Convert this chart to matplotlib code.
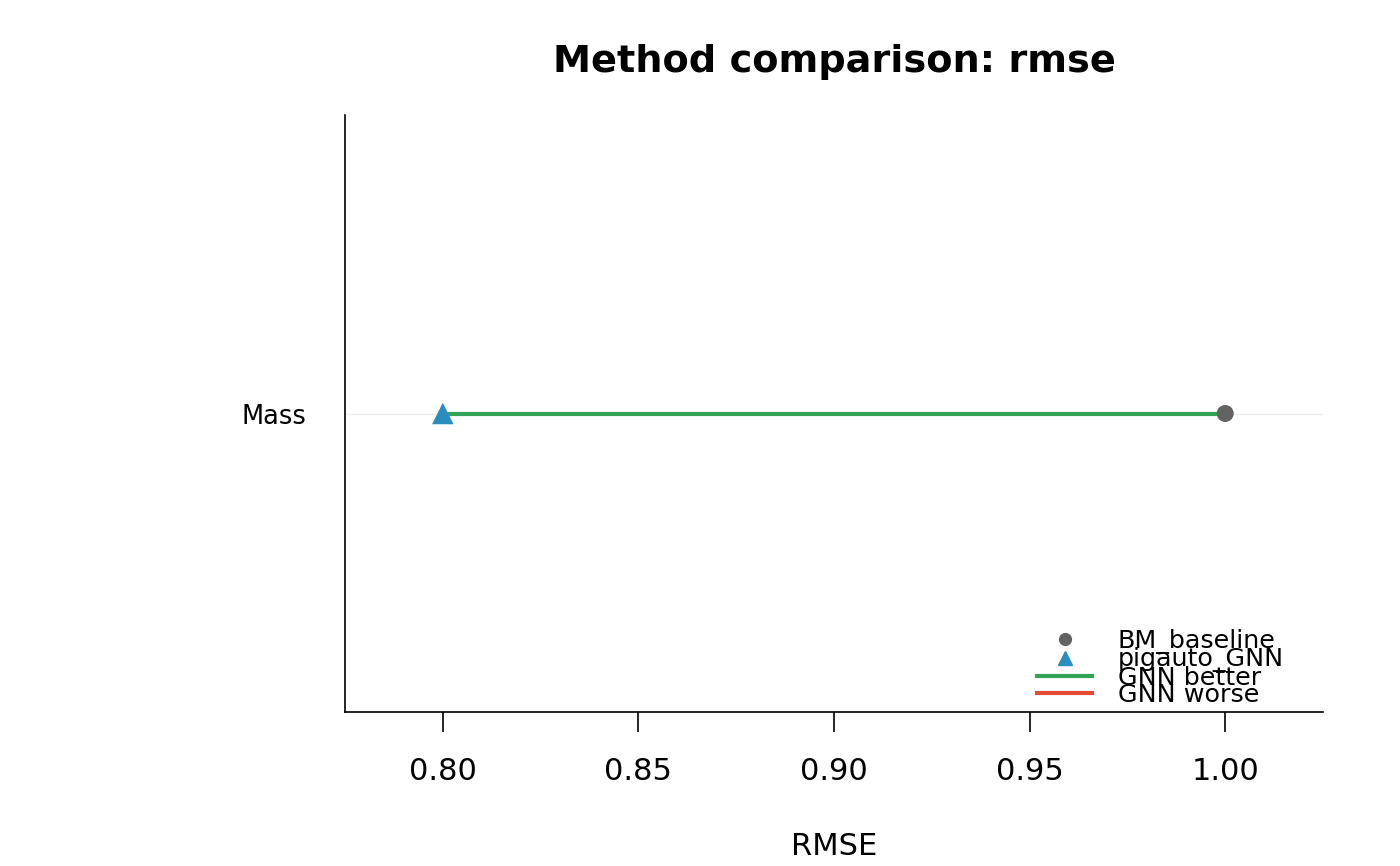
import numpy as np
import matplotlib.pyplot as plt
from matplotlib.lines import Line2D

traits = ['Mass']
bm_baseline = [1.00]
pigauto_gnn = [0.80]

col_bm = '#636363'
col_gnn = '#2b8cbe'
col_better = '#31a354'
col_worse = '#e34a33'

fig = plt.figure(figsize=(14, 8.66), dpi=100)
ax = fig.add_axes([345 / 1400, 1 - 712 / 866, (1323 - 345) / 1400, (712 - 115) / 866])

y = np.arange(len(traits)) + 1
for yi, b, g in zip(y, bm_baseline, pigauto_gnn):
    ax.axhline(yi, color='#eeeeee', lw=1, zorder=0)
    ax.plot([g, b], [yi, yi], color=col_better if g < b else col_worse, lw=3, zorder=2)
ax.scatter(bm_baseline, y, color=col_bm, s=150, marker='o', zorder=3, edgecolors='none')
ax.scatter(pigauto_gnn, y, color=col_gnn, s=240, marker='^', zorder=4, edgecolors='none')

ax.set_xlim(0.775, 1.025)
ax.set_ylim(0.4, 1.6)
ax.set_xticks([0.80, 0.85, 0.90, 0.95, 1.00])
ax.set_xticklabels(['0.80', '0.85', '0.90', '0.95', '1.00'])
ax.set_yticks(y)
ax.set_yticklabels(traits)
ax.tick_params(axis='x', length=14.4, width=1.2, labelsize=22, pad=18)
ax.tick_params(axis='y', length=0, labelsize=18.5, pad=28)
for s in ['top', 'right']:
    ax.spines[s].set_visible(False)
for s in ['left', 'bottom']:
    ax.spines[s].set_linewidth(1.2)

ax.set_xlabel('RMSE', fontsize=22, labelpad=33)
ax.set_title('Method comparison: rmse', fontsize=27.5, fontweight='bold', pad=31)

# legend rows packed tight, as in the original
handles = [
    Line2D([], [], color=col_bm, marker='o', linestyle='none', markersize=8.5),
    Line2D([], [], color=col_gnn, marker='^', linestyle='none', markersize=10.5),
    Line2D([], [], color=col_better, lw=3),
    Line2D([], [], color=col_worse, lw=3),
]
labels = ['BM_baseline', 'pigauto_GNN', 'GNN better', 'GNN worse']
ax.legend(handles, labels, loc='lower right', frameon=False, fontsize=18.3,
          labelspacing=-0.26, handlelength=2.17, handletextpad=1.0,
          borderpad=0, borderaxespad=0, bbox_to_anchor=(0.96, 0.008))

fig.savefig('out.png', dpi=100)
